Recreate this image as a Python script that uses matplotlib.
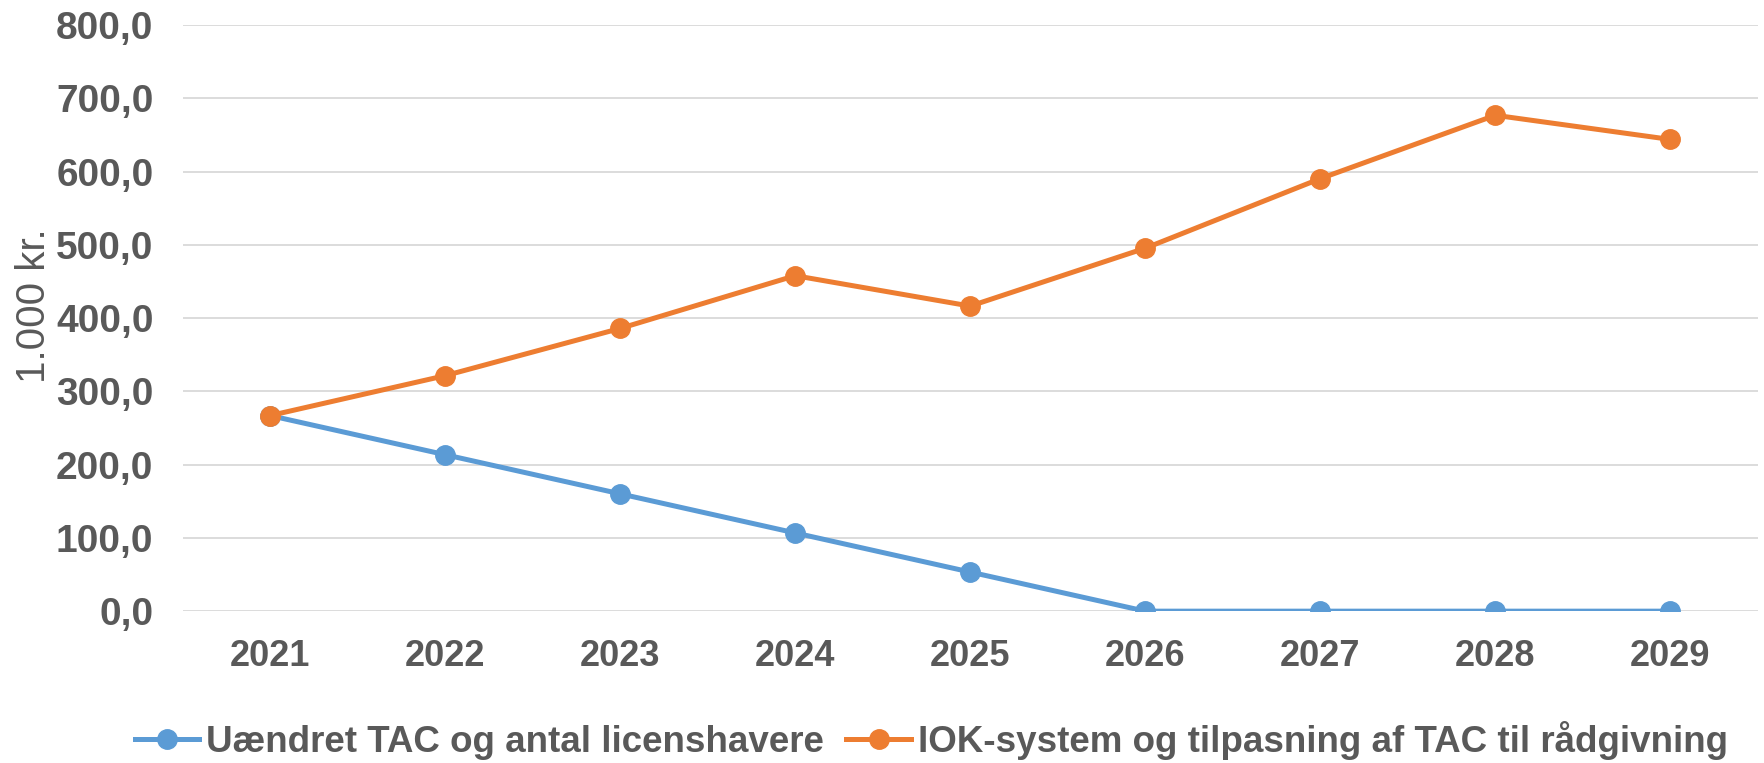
import matplotlib
matplotlib.use("Agg")
import matplotlib.pyplot as plt

# Data
years = ["2021", "2022", "2023", "2024", "2025", "2026", "2027", "2028", "2029"]
uaendret = [267.0, 213.6, 160.2, 106.8, 53.4, 0.0, 0.0, 0.0, 0.0]
iok = [267.0, 321.5, 386.0, 458.0, 416.5, 495.5, 590.5, 677.0, 644.0]
y_ticks = [0, 100, 200, 300, 400, 500, 600, 700, 800]

label_blue = "Uændret TAC og antal licenshavere"
label_orange = "IOK-system og tilpasning af TAC til rådgivning"

BLUE = "#5B9BD5"
ORANGE = "#ED7D31"
TEXT = "#595959"
GRID = "#D9D9D9"

plt.rcParams["font.family"] = ["Liberation Sans", "DejaVu Sans"]

fig = plt.figure(figsize=(17.64, 7.63), dpi=100)
ax = fig.add_axes([0.1035, 0.199, 0.893, 0.768])

x = list(range(len(years)))
ax.plot(x, uaendret, color=BLUE, lw=3.6, marker="o", ms=14,
        label=label_blue, zorder=3)
ax.plot(x, iok, color=ORANGE, lw=3.6, marker="o", ms=14,
        label=label_orange, zorder=4)

ax.set_xlim(-0.5, len(years) - 0.5)
ax.set_ylim(0, 800)
ax.set_yticks(y_ticks)
ax.set_yticklabels([f"{v:.1f}".replace(".", ",") for v in y_ticks])
ax.set_xticks(x)
ax.set_xticklabels(years)

ax.grid(axis="y", color=GRID, lw=1.3, zorder=0)
ax.set_axisbelow(True)
for s in ax.spines.values():
    s.set_visible(False)
ax.tick_params(length=0, labelcolor=TEXT)
ax.tick_params(axis="y", labelsize=28, pad=21)
ax.tick_params(axis="x", labelsize=26, pad=20)
for lab in ax.get_xticklabels() + ax.get_yticklabels():
    lab.set_fontweight("bold")

fig.text(0.019, 0.599, "1.000 kr.", rotation=90, ha="center", va="center",
         fontsize=29, color=TEXT)

leg = fig.legend(loc="center", bbox_to_anchor=(0.528, 0.029), ncol=2,
                 frameon=False, handlelength=1.75, handletextpad=0.2,
                 columnspacing=0.6, borderaxespad=0,
                 prop={"size": 26.5, "weight": "bold"})
for t in leg.get_texts():
    t.set_color(TEXT)

fig.savefig("out.png", dpi=100)
